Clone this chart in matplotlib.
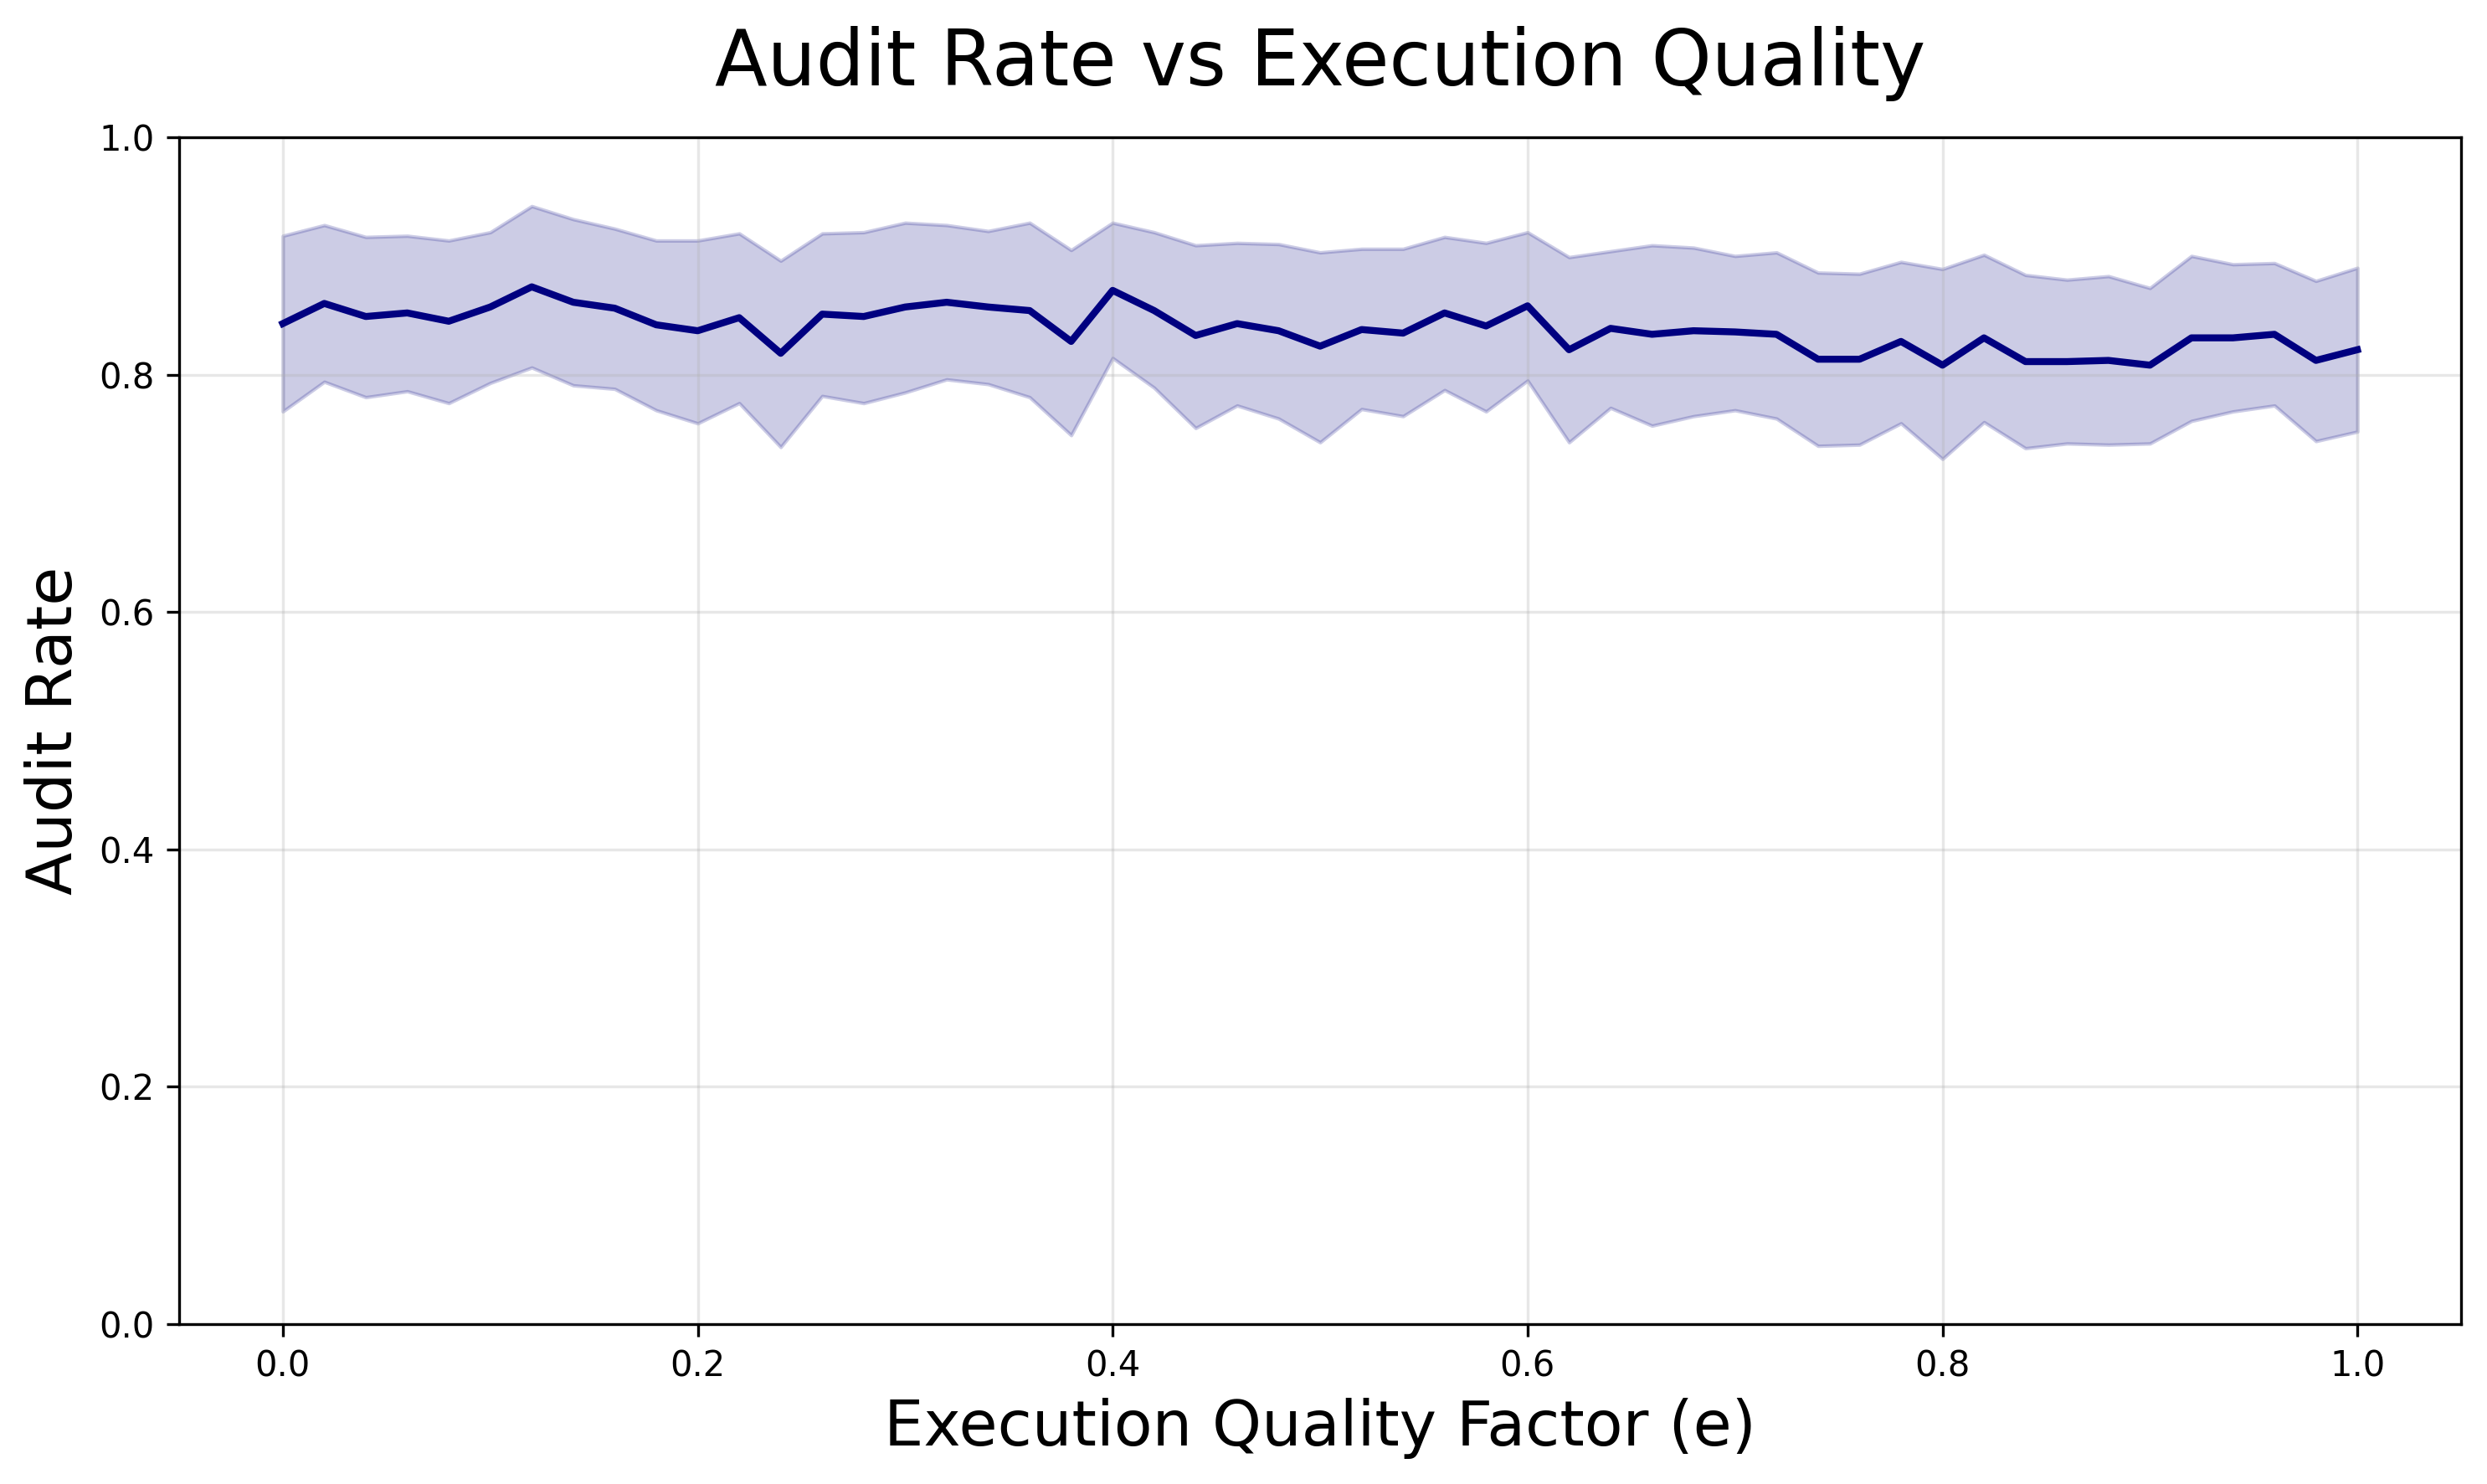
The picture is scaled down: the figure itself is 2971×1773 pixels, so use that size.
import numpy as np
import matplotlib
matplotlib.use("Agg")
import matplotlib.pyplot as plt

# execution quality factor grid
e_values = np.linspace(0.0, 1.0, 51)

audit_mean = [
    0.843, 0.860, 0.849, 0.852, 0.845, 0.857, 0.874, 0.861, 0.856, 0.842,
    0.837, 0.848, 0.818, 0.851, 0.849, 0.857, 0.861, 0.857, 0.854, 0.828,
    0.871, 0.854, 0.833, 0.843, 0.837, 0.824, 0.838, 0.835, 0.852, 0.841,
    0.858, 0.821, 0.839, 0.834, 0.837, 0.836, 0.834, 0.813, 0.813, 0.828,
    0.808, 0.831, 0.811, 0.811, 0.812, 0.808, 0.831, 0.831, 0.834, 0.812,
    0.821,
]

audit_upper = [
    0.917, 0.926, 0.916, 0.917, 0.913, 0.920, 0.942, 0.931, 0.923, 0.913,
    0.913, 0.919, 0.896, 0.919, 0.920, 0.928, 0.926, 0.921, 0.928, 0.905,
    0.928, 0.920, 0.909, 0.911, 0.910, 0.903, 0.906, 0.906, 0.916, 0.911,
    0.920, 0.899, 0.904, 0.909, 0.907, 0.900, 0.903, 0.886, 0.885, 0.895,
    0.889, 0.901, 0.884, 0.880, 0.883, 0.873, 0.900, 0.893, 0.894, 0.879,
    0.890,
]

audit_lower = [
    0.769, 0.794, 0.781, 0.786, 0.776, 0.793, 0.806, 0.791, 0.788, 0.770,
    0.759, 0.776, 0.739, 0.782, 0.776, 0.785, 0.796, 0.792, 0.781, 0.749,
    0.814, 0.789, 0.755, 0.774, 0.763, 0.743, 0.771, 0.765, 0.787, 0.769,
    0.795, 0.743, 0.772, 0.757, 0.765, 0.770, 0.763, 0.740, 0.741, 0.759,
    0.729, 0.760, 0.738, 0.742, 0.741, 0.742, 0.761, 0.769, 0.774, 0.744,
    0.752,
]


fig, ax = plt.subplots(figsize=(2971 / 300, 1773 / 300))
fig.subplots_adjust(left=0.072, right=0.9896, top=0.9075, bottom=0.1077)

ax.plot(e_values, audit_mean, color="navy", linewidth=2)
ax.fill_between(e_values, audit_lower, audit_upper, color="navy", alpha=0.2)

ax.set_ylim(0, 1)
ax.set_xlabel("Execution Quality Factor (e)", fontsize=18)
ax.set_ylabel("Audit Rate", fontsize=18)
ax.set_title("Audit Rate vs Execution Quality", fontsize=22, pad=15)
ax.grid(True, alpha=0.3)

fig.savefig("out.png", dpi=300)
plt.close(fig)
